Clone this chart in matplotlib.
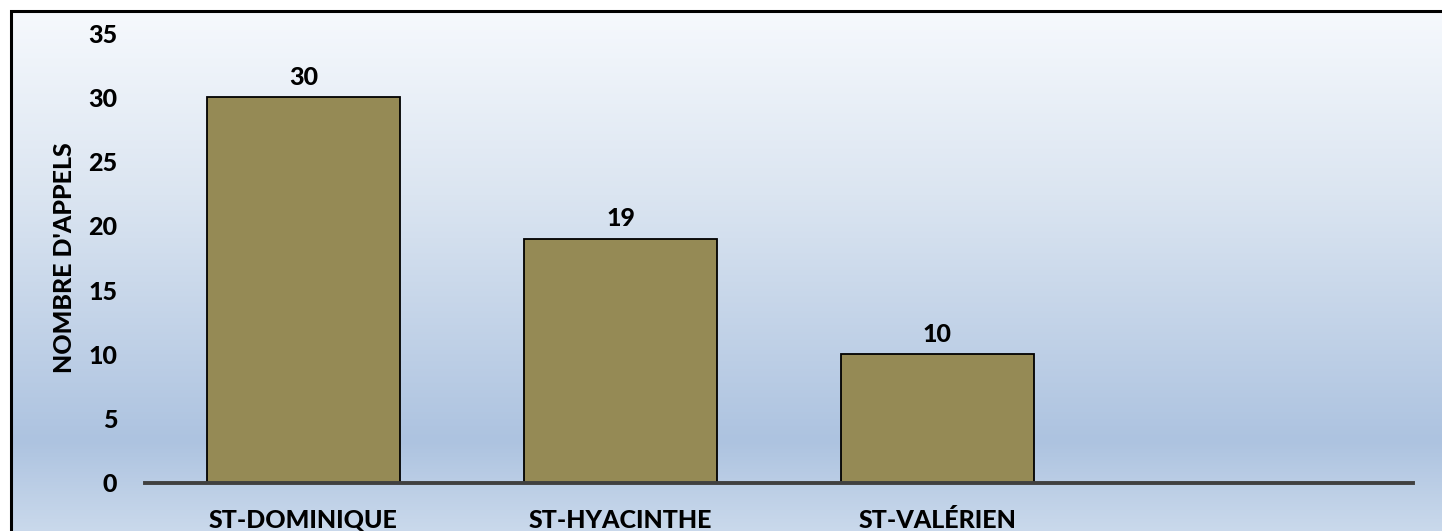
#!/usr/bin/env python3
"""Bar chart: nombre d'appels par municipalité."""

import numpy as np
import matplotlib.pyplot as plt
from matplotlib.colors import LinearSegmentedColormap

plt.rcParams["font.family"] = ["Lato", "DejaVu Sans"]

categories = ["ST-DOMINIQUE", "ST-HYACINTHE", "ST-VALÉRIEN", ""]
values = [30, 19, 10, None]
y_ticks = [0, 5, 10, 15, 20, 25, 30, 35]
y_label = "NOMBRE D'APPELS"

W, H = 1442, 531
FW = "black"
fig = plt.figure(figsize=(W / 100, H / 100), dpi=100)

# background: white page, gradient panel with black frame (pixel coords)
bg = fig.add_axes([0, 0, 1, 1])
bg.axis("off")
grad_cmap = LinearSegmentedColormap.from_list(
    "bluegrad",
    [(0.0, "#f6f9fd"), (0.35, "#dbe5f1"), (0.82, "#adc3e0"), (1.0, "#cbdaec")],
)
grad = np.linspace(0, 1, 256).reshape(-1, 1)
bg.imshow(grad, cmap=grad_cmap, aspect="auto", extent=[10, W + 5, H + 5, 11],
          interpolation="bilinear", zorder=0)
# frame only shows on the left and top (cut off at right / bottom)
bg.plot([10.5, 10.5, W + 50], [H + 50, 11, 11], color="black",
        linewidth=2.2, solid_joinstyle="miter", zorder=1)
bg.set_xlim(0, W)
bg.set_ylim(H, 0)

ax = fig.add_axes([145 / W, (H - 483) / H, (1413 - 145) / W, (483 - 33) / H])
ax.patch.set_alpha(0)

x = np.arange(len(categories))
heights = [v if v is not None else 0 for v in values]
ax.bar(x, heights, width=0.61, color="#958a55", edgecolor="black",
       linewidth=1.3, zorder=3)
for xi, v in zip(x, values):
    if v is not None:
        ax.annotate(str(v), (xi, v), xytext=(0, 6), textcoords="offset points",
                    ha="center", va="bottom", fontsize=18, fontweight=FW)

ax.set_xlim(-0.5, 3.5)
ax.set_ylim(0, 35)
ax.set_yticks(y_ticks)
ax.set_yticklabels([str(t) for t in y_ticks], fontsize=18, fontweight=FW)
ax.set_xticks(x)
ax.set_xticklabels(categories, fontsize=18, fontweight=FW)
ax.tick_params(axis="y", length=0, pad=20)
ax.tick_params(axis="x", length=0, pad=19)
ax.set_ylabel(y_label, fontsize=18, fontweight=FW, labelpad=9)

for side in ["top", "right", "left"]:
    ax.spines[side].set_visible(False)
ax.spines["bottom"].set_color("#404040")
ax.spines["bottom"].set_linewidth(2.8)
ax.spines["bottom"].set_zorder(4)

fig.savefig("out.png", dpi=100)
plt.close(fig)
